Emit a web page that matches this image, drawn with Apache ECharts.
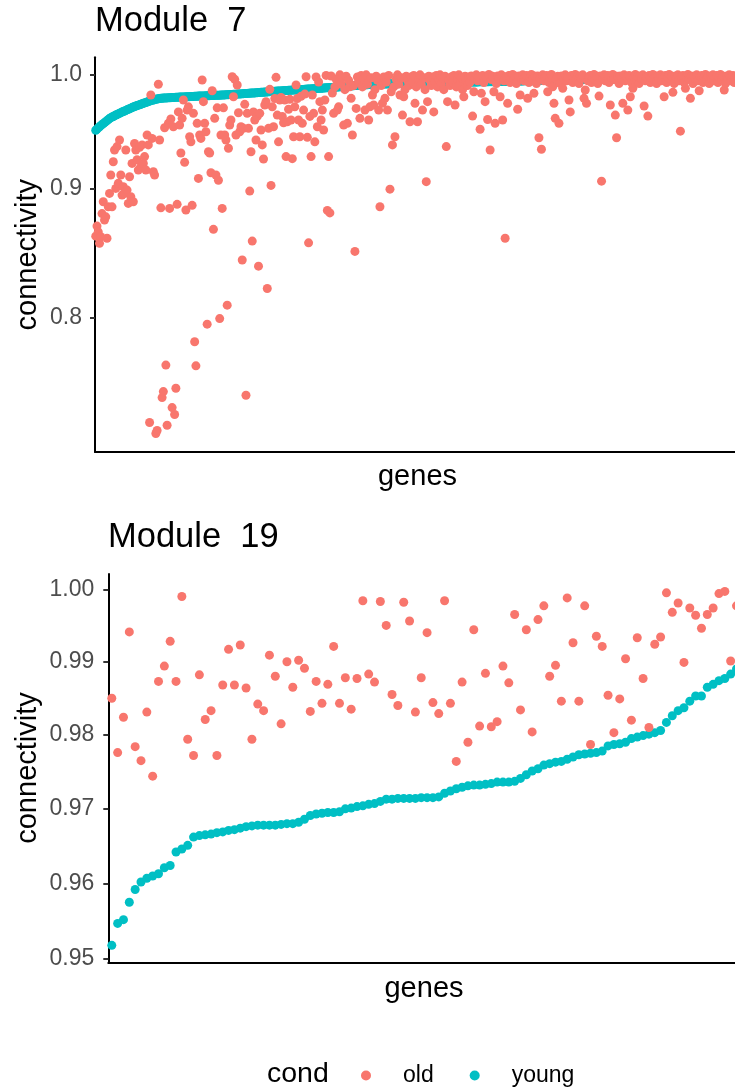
<!DOCTYPE html>
<html><head><meta charset="utf-8">
<script src="https://cdn.jsdelivr.net/npm/echarts@6/dist/echarts.min.js"></script>
<style>html,body{margin:0;padding:0;overflow:hidden;background:#fff}#c{width:745px;height:1090px}</style>
</head><body><div id="c"></div><script>
// ---------------- data ----------------
const panelTitles = ['Module  7', 'Module  19'];
const condNames = ['old', 'young'];
const yTicks7 = [0.8, 0.9, 1.0];
const yTicks19 = [0.95, 0.96, 0.97, 0.98, 0.99, 1.00];

const old7 = [
0.8620,0.8700,0.8654,0.8563,0.8615,0.8800,0.8896,0.8748,0.8774,0.8603,
0.8855,0.8965,0.9117,0.8855,0.9229,0.9329,0.9006,0.9358,0.9048,0.9415,
0.9117,0.8951,0.9020,0.8965,0.9329,0.8992,0.8883,0.9103,0.8937,0.9215,
0.8896,0.9385,0.9329,0.9246,0.9159,0.9353,0.9187,0.9373,0.9215,0.9273,
0.9159,0.9458,0.9373,0.7265,0.9812,0.9429,0.9145,0.9117,0.7192,0.7212,
0.9909,0.9415,0.8847,0.7433,0.7474,0.9521,0.7658,0.7247,0.9560,0.8842,
0.9598,0.7365,0.9530,0.7319,0.7497,0.8875,0.9661,0.9545,0.9303,0.9604,
0.9767,0.9224,0.8829,0.9677,0.9706,0.9443,0.9399,0.8867,0.9648,0.7824,
0.7653,0.9560,0.9089,0.9458,0.9429,0.9948,0.9752,0.9560,0.9487,0.7951,
0.9314,0.9303,0.9136,0.9850,0.8674,0.9604,0.9117,0.9697,0.9074,0.7992,
0.9458,0.8842,0.9697,0.9458,0.9415,0.8091,0.9344,0.9545,0.9589,0.9978,
0.9796,0.9954,0.9458,0.9902,0.9653,0.9487,0.9530,0.8433,0.9516,0.9728,
0.7449,0.9648,0.9516,0.8984,0.9314,0.8581,0.9661,0.9589,0.9415,0.9621,
0.8386,0.9648,0.9502,0.9373,0.9252,0.9722,0.9752,0.8216,0.9516,0.9863,
0.9031,0.9706,0.9530,0.9780,0.9972,0.9633,0.9399,0.9767,0.9790,0.9621,
0.9565,0.9767,0.9273,0.9574,0.9684,0.9773,0.9589,0.9255,0.9443,0.9706,
0.9902,0.9780,0.9589,0.9443,0.9800,0.9560,0.9677,0.9820,0.9978,0.9438,
0.8567,0.9621,0.9273,0.9812,0.9648,0.9399,0.9975,0.9530,0.9930,0.9752,
0.9589,0.9677,0.9502,0.9767,0.9990,0.8826,0.9273,0.8806,0.9984,0.9830,
0.9648,0.9885,0.9955,0.9677,0.9706,0.9995,0.9910,0.9968,0.9545,0.9860,
0.9982,0.9560,0.9945,0.9887,0.9782,0.9458,0.9898,0.8500,0.9692,0.9975,
0.9930,0.9604,0.9990,0.9885,0.9955,0.9677,0.9995,0.9910,0.9589,0.9706,
0.9968,0.9812,0.9722,0.9860,0.9982,0.9945,0.9677,0.8856,0.9898,0.9737,
0.9975,0.9782,0.9930,0.9677,0.9990,0.9000,0.9841,0.9373,0.9885,0.9443,
0.9955,0.9995,0.9910,0.9812,0.9968,0.9633,0.9796,0.9860,0.9982,0.9945,
0.9898,0.9574,0.9975,0.9930,0.9990,0.9737,0.9885,0.9574,0.9955,0.9995,
0.9910,0.9677,0.9968,0.9860,0.9062,0.9752,0.9982,0.9945,0.9898,0.9975,
0.9661,0.9930,0.9990,0.9885,0.9955,0.9995,0.9910,0.9968,0.9860,0.9982,
0.9358,0.9752,0.9945,0.9898,0.9975,0.9930,0.9990,0.9722,0.9885,0.9955,
0.9995,0.9910,0.9968,0.9860,0.9796,0.9982,0.9945,0.9898,0.9975,0.9930,
0.9985,0.9624,0.9841,0.9960,0.9995,0.9940,0.9978,0.9508,0.9827,0.9990,
0.9925,0.9752,0.9970,0.9594,0.9998,0.9329,0.9952,0.9983,0.9841,0.9560,
0.9915,0.9985,0.9960,0.9796,0.9995,0.9589,0.9940,0.8603,0.9978,0.9737,
0.9990,0.9925,0.9970,0.9998,0.9952,0.9983,0.9915,0.9684,0.9985,0.9812,
0.9960,0.9995,0.9940,0.9978,0.9990,0.9782,0.9925,0.9970,0.9998,0.9952,
0.9827,0.9983,0.9915,0.9985,0.9434,0.9960,0.9335,0.9995,0.9940,0.9978,
0.9990,0.9841,0.9925,0.9970,0.9998,0.9887,0.9737,0.9604,0.9952,0.9983,
0.9560,0.9915,0.9985,0.9872,0.9960,0.9995,0.9940,0.9978,0.9767,0.9661,
0.9990,0.9925,0.9970,0.9998,0.9952,0.9983,0.9915,0.9985,0.9960,0.9995,
0.9782,0.9857,0.9737,0.9940,0.9978,0.9990,0.9925,0.9970,0.9998,0.9952,
0.9983,0.9915,0.9802,0.9985,0.9066,0.9960,0.9995,0.9940,0.9978,0.9990,
0.9925,0.9722,0.9970,0.9998,0.9952,0.9633,0.9434,0.9983,0.9915,0.9985,
0.9960,0.9737,0.9995,0.9940,0.9978,0.9677,0.9990,0.9796,0.9925,0.9872,
0.9970,0.9998,0.9952,0.9983,0.9915,0.9985,0.9960,0.9995,0.9713,0.9940,
0.9978,0.9624,0.9990,0.9925,0.9970,0.9998,0.9952,0.9983,0.9915,0.9985,
0.9960,0.9995,0.9940,0.9978,0.9796,0.9990,0.9925,0.9970,0.9998,0.9952,
0.9983,0.9836,0.9915,0.9985,0.9960,0.9995,0.9940,0.9492,0.9978,0.9990,
0.9925,0.9872,0.9970,0.9998,0.9952,0.9782,0.9983,0.9915,0.9985,0.9960,
0.9995,0.9940,0.9850,0.9978,0.9990,0.9925,0.9970,0.9998,0.9952,0.9983,
0.9915,0.9985,0.9960,0.9995,0.9940,0.9978,0.9990,0.9925,0.9970,0.9998,
0.9952,0.9983,0.9857,0.9915,0.9985,0.9960,0.9995,0.9940,0.9978,0.9990,
0.9925,0.9970,0.9985,0.9960,0.9993
];
const young7 = [
0.9500,0.9510,0.9520,0.9530,0.9540,0.9549,0.9557,0.9566,0.9575,0.9584,
0.9593,0.9602,0.9610,0.9615,0.9620,0.9627,0.9633,0.9638,0.9643,0.9649,
0.9654,0.9659,0.9664,0.9669,0.9674,0.9679,0.9684,0.9689,0.9694,0.9699,
0.9704,0.9709,0.9713,0.9717,0.9721,0.9725,0.9729,0.9733,0.9737,0.9741,
0.9745,0.9749,0.9753,0.9757,0.9761,0.9764,0.9767,0.9770,0.9773,0.9776,
0.9778,0.9780,0.9782,0.9783,0.9784,0.9785,0.9786,0.9786,0.9787,0.9788,
0.9788,0.9789,0.9790,0.9790,0.9791,0.9792,0.9792,0.9793,0.9794,0.9794,
0.9795,0.9795,0.9796,0.9796,0.9797,0.9797,0.9798,0.9798,0.9799,0.9800,
0.9800,0.9801,0.9802,0.9802,0.9803,0.9803,0.9804,0.9804,0.9805,0.9805,
0.9806,0.9806,0.9807,0.9807,0.9808,0.9808,0.9809,0.9809,0.9810,0.9810,
0.9811,0.9812,0.9812,0.9813,0.9814,0.9814,0.9815,0.9816,0.9816,0.9817,
0.9818,0.9818,0.9819,0.9820,0.9821,0.9822,0.9822,0.9823,0.9824,0.9825,
0.9826,0.9826,0.9827,0.9828,0.9829,0.9830,0.9830,0.9831,0.9832,0.9833,
0.9834,0.9835,0.9836,0.9837,0.9837,0.9838,0.9839,0.9840,0.9841,0.9842,
0.9843,0.9843,0.9844,0.9845,0.9846,0.9847,0.9848,0.9849,0.9849,0.9850,
0.9851,0.9852,0.9852,0.9853,0.9854,0.9855,0.9855,0.9856,0.9857,0.9857,
0.9858,0.9859,0.9859,0.9860,0.9861,0.9861,0.9862,0.9863,0.9864,0.9865,
0.9865,0.9866,0.9867,0.9868,0.9869,0.9869,0.9870,0.9871,0.9872,0.9873,
0.9873,0.9874,0.9875,0.9876,0.9877,0.9877,0.9878,0.9879,0.9880,0.9880,
0.9881,0.9882,0.9883,0.9884,0.9885,0.9886,0.9887,0.9888,0.9888,0.9889,
0.9890,0.9891,0.9892,0.9893,0.9894,0.9895,0.9896,0.9897,0.9898,0.9899,
0.9900,0.9900,0.9901,0.9902,0.9903,0.9904,0.9904,0.9905,0.9906,0.9906,
0.9907,0.9907,0.9908,0.9908,0.9909,0.9909,0.9910,0.9910,0.9910,0.9911,
0.9911,0.9911,0.9912,0.9912,0.9912,0.9913,0.9913,0.9913,0.9914,0.9914,
0.9914,0.9914,0.9915,0.9915,0.9915,0.9915,0.9916,0.9916,0.9916,0.9916,
0.9917,0.9917,0.9917,0.9917,0.9918,0.9918,0.9918,0.9918,0.9919,0.9919,
0.9919,0.9919,0.9920,0.9920,0.9920,0.9920,0.9921,0.9921,0.9921,0.9921,
0.9922,0.9922,0.9922,0.9922,0.9923,0.9923,0.9923,0.9923,0.9924,0.9924,
0.9924,0.9924,0.9925,0.9925,0.9925,0.9925,0.9926,0.9926,0.9926,0.9926,
0.9927,0.9927,0.9927,0.9927,0.9928,0.9928,0.9928,0.9928,0.9929,0.9929,
0.9929,0.9929,0.9930,0.9930,0.9930,0.9930,0.9931,0.9931,0.9931,0.9931,
0.9932,0.9932,0.9932,0.9932,0.9933,0.9933,0.9933,0.9933,0.9934,0.9934,
0.9934,0.9934,0.9935,0.9935,0.9935,0.9935,0.9936,0.9936,0.9936,0.9936,
0.9937,0.9937,0.9937,0.9937,0.9938,0.9938,0.9938,0.9938,0.9939,0.9939,
0.9939,0.9939,0.9940,0.9940,0.9940,0.9940,0.9941,0.9941,0.9941,0.9941,
0.9942,0.9942,0.9942,0.9942,0.9943,0.9943,0.9943,0.9943,0.9944,0.9944,
0.9944,0.9944,0.9945,0.9945,0.9945,0.9945,0.9946,0.9946,0.9946,0.9946,
0.9947,0.9947,0.9947,0.9947,0.9948,0.9948,0.9948,0.9948,0.9949,0.9949,
0.9949,0.9949,0.9950,0.9950,0.9950,0.9950,0.9951,0.9951,0.9951,0.9951,
0.9952,0.9952,0.9952,0.9952,0.9953,0.9953,0.9953,0.9953,0.9954,0.9954,
0.9954,0.9954,0.9955,0.9955,0.9955,0.9955,0.9956,0.9956,0.9956,0.9956,
0.9957,0.9957,0.9957,0.9957,0.9958,0.9958,0.9958,0.9958,0.9959,0.9959,
0.9959,0.9959,0.9960,0.9960,0.9960,0.9960,0.9961,0.9961,0.9961,0.9961,
0.9961,0.9962,0.9962,0.9962,0.9962,0.9962,0.9963,0.9963,0.9963,0.9963,
0.9963,0.9963,0.9964,0.9964,0.9964,0.9964,0.9964,0.9964,0.9965,0.9965,
0.9965,0.9965,0.9965,0.9965,0.9966,0.9966,0.9966,0.9966,0.9966,0.9966,
0.9967,0.9967,0.9967,0.9967,0.9967,0.9967,0.9968,0.9968,0.9968,0.9968,
0.9968,0.9968,0.9969,0.9969,0.9969,0.9969,0.9969,0.9969,0.9970,0.9970,
0.9970,0.9970,0.9970,0.9970,0.9971,0.9971,0.9971,0.9971,0.9971,0.9971,
0.9972,0.9972,0.9972,0.9972,0.9972,0.9972,0.9973,0.9973,0.9973,0.9973,
0.9973,0.9973,0.9974,0.9974,0.9974,0.9974,0.9974,0.9974,0.9975,0.9975,
0.9975,0.9975,0.9975,0.9976,0.9976
];
const old19 = [
0.9850,0.9776,0.9824,0.9941,0.9784,0.9765,0.9831,0.9744,0.9873,0.9894,
0.9928,0.9873,0.9990,0.9794,0.9772,0.9882,0.9821,0.9833,0.9772,0.9868,
0.9917,0.9868,0.9923,0.9864,0.9794,0.9842,0.9833,0.9909,0.9880,0.9815,
0.9900,0.9865,0.9902,0.9891,0.9832,0.9873,0.9843,0.9869,0.9921,0.9843,
0.9878,0.9835,0.9877,0.9984,0.9883,0.9872,0.9983,0.9950,0.9855,0.9840,
0.9982,0.9956,0.9831,0.9878,0.9940,0.9844,0.9829,0.9984,0.9843,0.9764,
0.9872,0.9790,0.9944,0.9812,0.9884,0.9811,0.9818,0.9894,0.9871,0.9965,
0.9834,0.9944,0.9804,0.9958,0.9977,0.9880,0.9895,0.9846,0.9988,0.9926,
0.9846,0.9977,0.9787,0.9935,0.9921,0.9854,0.9803,0.9849,0.9904,0.9820,
0.9933,0.9877,0.9810,0.9924,0.9934,0.9995,0.9968,0.9981,0.9899,0.9974,
0.9964,0.9946,0.9965,0.9974,0.9994,0.9997,0.9901,0.9977
];
const young19 = [
0.9518,0.9547,0.9552,0.9575,0.9592,0.9602,0.9607,0.9610,0.9613,0.9621,
0.9624,0.9642,0.9646,0.9651,0.9662,0.9664,0.9665,0.9666,0.9668,0.9669,
0.9671,0.9672,0.9674,0.9676,0.9677,0.9678,0.9678,0.9678,0.9678,0.9679,
0.9680,0.9680,0.9682,0.9686,0.9691,0.9693,0.9694,0.9695,0.9695,0.9696,
0.9700,0.9701,0.9703,0.9704,0.9706,0.9707,0.9710,0.9713,0.9713,0.9714,
0.9714,0.9714,0.9714,0.9715,0.9715,0.9715,0.9716,0.9721,0.9724,0.9727,
0.9729,0.9731,0.9732,0.9732,0.9733,0.9734,0.9736,0.9736,0.9736,0.9737,
0.9741,0.9746,0.9751,0.9754,0.9759,0.9761,0.9763,0.9764,0.9767,0.9770,
0.9773,0.9774,0.9775,0.9776,0.9778,0.9785,0.9787,0.9788,0.9790,0.9795,
0.9797,0.9799,0.9801,0.9803,0.9806,0.9817,0.9826,0.9833,0.9837,0.9846,
0.9853,0.9853,0.9865,0.9869,0.9874,0.9877,0.9883,0.9890
];

// ---------------- chart ----------------
const FONT = "'Liberation Sans', Arial, Helvetica, sans-serif";
const RED = '#F8766D', TEAL = '#00BFC4';
const pts = arr => arr.map((v, i) => [i + 1, v]);

function xAx(g, n) {
  return {gridIndex: g, type: 'value', min: 0.4, max: n + 0.6,
    axisLine: {show: true, onZero: false, lineStyle: {color: '#000', width: 2}},
    axisTick: {show: false}, axisLabel: {show: false}, splitLine: {show: false}};
}
function yAx(g, mn, mx, ticks, dec, margin) {
  return {gridIndex: g, type: 'log', logBase: 10, min: mn, max: mx,
    axisLine: {show: true, onZero: false, lineStyle: {color: '#000', width: 2}},
    axisTick: {show: true, length: 5, customValues: ticks, lineStyle: {color: '#333', width: 2}},
    axisLabel: {show: true, customValues: ticks, formatter: v => Number(v).toFixed(dec),
      color: '#4D4D4D', fontSize: 23, fontFamily: FONT, margin: margin},
    splitLine: {show: false}, minorTick: {show: false}};
}
function sc(name, g, data, color) {
  return {type: 'scatter', name: name, xAxisIndex: g, yAxisIndex: g, data: pts(data),
    symbol: 'circle', symbolSize: 9, itemStyle: {color: color, opacity: 1},
    silent: true, clip: true};
}
function txt(t, x, y, size, align, rot) {
  const el = {type: 'text', x: x, y: y, silent: true,
    style: {text: t, fontSize: size, fontFamily: FONT, fill: '#000',
      align: align, verticalAlign: 'middle', textAlign: align, textVerticalAlign: 'middle'}};
  if (rot) el.rotation = rot;
  return el;
}

const chart = echarts.init(document.getElementById('c'), null, {renderer: 'canvas'});
chart.setOption({
  animation: false,
  backgroundColor: '#fff',
  grid: [
    {left: 95, top: 57.3, width: 645, height: 394.7, containLabel: false},
    {left: 108.3, top: 574, width: 631.7, height: 388.7, containLabel: false}
  ],
  xAxis: [xAx(0, young7.length), xAx(1, young19.length)],
  yAxis: [yAx(0, 0.70711, 1.01573, yTicks7, 1, 13), yAx(1, 0.94951, 1.00212, yTicks19, 2, 14)],
  legend: {data: condNames, left: 356, top: 1059, icon: 'circle', itemWidth: 64, itemHeight: 10,
    itemGap: 36, selectedMode: false, textStyle: {fontSize: 23, fontFamily: FONT, color: '#000'}},
  series: [
    sc('young', 0, young7, TEAL), sc('old', 0, old7, RED),
    sc('young', 1, young19, TEAL), sc('old', 1, old19, RED)
  ],
  graphic: [
    txt(panelTitles[0], 95, 21, 34.5, 'left'),
    txt(panelTitles[1], 108, 537, 34.5, 'left'),
    txt('connectivity', 28, 254.7, 29, 'center', Math.PI / 2),
    txt('connectivity', 28, 768, 29, 'center', Math.PI / 2),
    txt('genes', 417.5, 477, 29, 'center'),
    txt('genes', 424, 989, 29, 'center'),
    txt('cond', 267, 1074, 28.5, 'left')
  ]
});
</script></body></html>
